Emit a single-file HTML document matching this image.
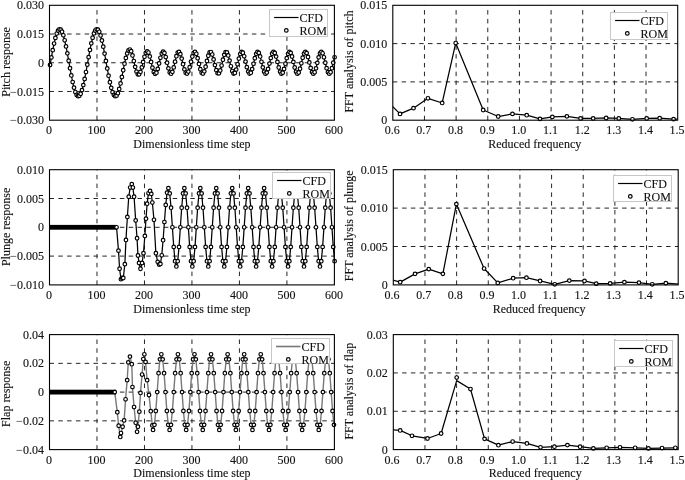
<!DOCTYPE html>
<html><head><meta charset="utf-8"><style>
html,body{margin:0;padding:0;background:#fff;width:685px;height:480px;overflow:hidden}
svg{display:block;will-change:transform}
text{font-family:"Liberation Serif",serif;stroke:#111;stroke-width:0.12px}
</style></head><body>
<svg width="685" height="480" viewBox="0 0 685 480" font-family='"Liberation Serif", serif'>
<rect width="685" height="480" fill="#fff"/>
<clipPath id="ca"><rect x="49.5" y="5.3" width="284.9" height="114.9"/></clipPath>
<path d="M96.98 120.2V5.3M144.47 120.2V5.3M191.95 120.2V5.3M239.43 120.2V5.3M286.92 120.2V5.3M49.5 34.02H334.4M49.5 62.75H334.4M49.5 91.47H334.4" stroke="#262626" stroke-width="1" stroke-dasharray="4.5 4.3" fill="none"/>
<path d="M49.5 68.11 L50.07 64.9 L51.4 57.39 L52.73 50.16 L54.06 43.56 L55.39 37.92 L56.72 33.53 L58.05 30.61 L59.38 29.3 L60.71 29.68 L62.04 31.72 L63.37 35.32 L64.69 40.3 L66.02 46.4 L67.35 53.33 L68.68 60.73 L70.01 68.24 L71.34 75.47 L72.67 82.05 L74 87.67 L75.33 92.04 L76.66 94.93 L77.99 96.21 L79.32 95.8 L80.65 93.73 L81.98 90.11 L83.31 85.1 L84.64 78.98 L85.97 72.04 L87.3 64.63 L88.63 57.13 L89.96 49.91 L91.29 43.34 L92.61 37.74 L93.94 33.4 L95.27 30.53 L96.6 29.29 L97.93 29.72 L99.26 31.82 L100.59 35.47 L101.92 40.5 L103.25 46.64 L104.58 53.59 L105.91 61 L107.24 68.5 L108.57 75.71 L109.9 82.27 L111.23 87.85 L112.56 92.17 L113.89 95 L115.22 96.22 L116.55 95.65 L117.88 93.17 L119.21 88.98 L120.54 83.44 L121.86 77.01 L123.19 70.23 L124.52 63.68 L125.85 57.9 L127.18 53.39 L128.51 50.52 L129.84 49.54 L131.17 51.26 L132.5 55.43 L133.83 61.05 L135.16 66.87 L136.49 71.62 L137.82 74.29 L139.15 74.36 L140.48 71.86 L141.81 67.39 L143.14 61.96 L144.47 56.78 L145.8 53 L147.13 51.42 L148.46 52.57 L149.78 56.44 L151.11 61.96 L152.44 67.66 L153.77 72.01 L155.1 73.85 L156.43 72.69 L157.76 68.88 L159.09 63.42 L160.42 57.81 L161.75 53.54 L163.08 51.76 L164.41 53.01 L165.74 57.04 L167.07 62.7 L168.4 68.36 L169.73 72.41 L171.06 73.7 L172.39 71.85 L173.72 67.41 L175.05 61.64 L176.38 56.19 L177.71 52.62 L179.03 51.93 L180.36 54.15 L181.69 58.61 L183.02 64.16 L184.35 69.34 L185.68 72.79 L187.01 73.61 L188.34 71.59 L189.67 67.25 L191 61.74 L192.33 56.49 L193.66 52.89 L194.99 51.86 L196.32 53.8 L197.65 58.21 L198.98 63.89 L200.31 69.25 L201.64 72.81 L202.97 73.57 L204.3 71.33 L205.63 66.71 L206.95 60.99 L208.28 55.76 L209.61 52.47 L210.94 52.03 L212.27 54.57 L213.6 59.38 L214.93 65.12 L216.26 70.21 L217.59 73.22 L218.92 73.33 L220.25 70.51 L221.58 65.53 L222.91 59.77 L224.24 54.85 L225.57 52.12 L226.9 52.34 L228.23 55.45 L229.56 60.58 L230.89 66.32 L232.22 71.07 L233.55 73.51 L234.87 72.96 L236.2 69.58 L237.53 64.3 L238.86 58.6 L240.19 54.04 L241.52 51.91 L242.85 52.75 L244.18 56.29 L245.51 61.58 L246.84 67.17 L248.17 71.58 L249.5 73.61 L250.83 72.71 L252.16 69.12 L253.49 63.82 L254.82 58.23 L256.15 53.86 L257.48 51.88 L258.81 52.83 L260.14 56.46 L261.47 61.78 L262.8 67.36 L264.12 71.7 L265.45 73.63 L266.78 72.62 L268.11 68.96 L269.44 63.62 L270.77 58.05 L272.1 53.74 L273.43 51.87 L274.76 52.91 L276.09 56.58 L277.42 61.89 L278.75 67.43 L280.08 71.72 L281.41 73.63 L282.74 72.63 L284.07 69.01 L285.4 63.72 L286.73 58.17 L288.06 53.84 L289.39 51.88 L290.72 52.85 L292.04 56.51 L293.37 61.88 L294.7 67.48 L296.03 71.79 L297.36 73.64 L298.69 72.52 L300.02 68.73 L301.35 63.32 L302.68 57.74 L304.01 53.54 L305.34 51.84 L306.67 53.11 L308 57 L309.33 62.44 L310.66 67.97 L311.99 72.08 L313.32 73.66 L314.65 72.29 L315.98 68.33 L317.31 62.85 L318.64 57.35 L319.97 53.31 L321.29 51.83 L322.62 53.3 L323.95 57.29 L325.28 62.75 L326.61 68.21 L327.94 72.2 L329.27 73.67 L330.6 72.2 L331.93 68.21 L333.26 62.75 L334.59 57.29" stroke="#000" stroke-width="1.25" fill="none" stroke-linejoin="round" clip-path="url(#ca)"/>
<g fill="#fff" stroke="#000" stroke-width="1.2"><circle cx="50.07" cy="64.9" r="1.8"/><circle cx="51.4" cy="57.39" r="1.8"/><circle cx="52.73" cy="50.16" r="1.8"/><circle cx="54.06" cy="43.56" r="1.8"/><circle cx="55.39" cy="37.92" r="1.8"/><circle cx="56.72" cy="33.53" r="1.8"/><circle cx="58.05" cy="30.61" r="1.8"/><circle cx="59.38" cy="29.3" r="1.8"/><circle cx="60.71" cy="29.68" r="1.8"/><circle cx="62.04" cy="31.72" r="1.8"/><circle cx="63.37" cy="35.32" r="1.8"/><circle cx="64.69" cy="40.3" r="1.8"/><circle cx="66.02" cy="46.4" r="1.8"/><circle cx="67.35" cy="53.33" r="1.8"/><circle cx="68.68" cy="60.73" r="1.8"/><circle cx="70.01" cy="68.24" r="1.8"/><circle cx="71.34" cy="75.47" r="1.8"/><circle cx="72.67" cy="82.05" r="1.8"/><circle cx="74" cy="87.67" r="1.8"/><circle cx="75.33" cy="92.04" r="1.8"/><circle cx="76.66" cy="94.93" r="1.8"/><circle cx="77.99" cy="96.21" r="1.8"/><circle cx="79.32" cy="95.8" r="1.8"/><circle cx="80.65" cy="93.73" r="1.8"/><circle cx="81.98" cy="90.11" r="1.8"/><circle cx="83.31" cy="85.1" r="1.8"/><circle cx="84.64" cy="78.98" r="1.8"/><circle cx="85.97" cy="72.04" r="1.8"/><circle cx="87.3" cy="64.63" r="1.8"/><circle cx="88.63" cy="57.13" r="1.8"/><circle cx="89.96" cy="49.91" r="1.8"/><circle cx="91.29" cy="43.34" r="1.8"/><circle cx="92.61" cy="37.74" r="1.8"/><circle cx="93.94" cy="33.4" r="1.8"/><circle cx="95.27" cy="30.53" r="1.8"/><circle cx="96.6" cy="29.29" r="1.8"/><circle cx="97.93" cy="29.72" r="1.8"/><circle cx="99.26" cy="31.82" r="1.8"/><circle cx="100.59" cy="35.47" r="1.8"/><circle cx="101.92" cy="40.5" r="1.8"/><circle cx="103.25" cy="46.64" r="1.8"/><circle cx="104.58" cy="53.59" r="1.8"/><circle cx="105.91" cy="61" r="1.8"/><circle cx="107.24" cy="68.5" r="1.8"/><circle cx="108.57" cy="75.71" r="1.8"/><circle cx="109.9" cy="82.27" r="1.8"/><circle cx="111.23" cy="87.85" r="1.8"/><circle cx="112.56" cy="92.17" r="1.8"/><circle cx="113.89" cy="95" r="1.8"/><circle cx="115.22" cy="96.22" r="1.8"/><circle cx="116.55" cy="95.65" r="1.8"/><circle cx="117.88" cy="93.17" r="1.8"/><circle cx="119.21" cy="88.98" r="1.8"/><circle cx="120.54" cy="83.44" r="1.8"/><circle cx="121.86" cy="77.01" r="1.8"/><circle cx="123.19" cy="70.23" r="1.8"/><circle cx="124.52" cy="63.68" r="1.8"/><circle cx="125.85" cy="57.9" r="1.8"/><circle cx="127.18" cy="53.39" r="1.8"/><circle cx="128.51" cy="50.52" r="1.8"/><circle cx="129.84" cy="49.54" r="1.8"/><circle cx="131.17" cy="51.26" r="1.8"/><circle cx="132.5" cy="55.43" r="1.8"/><circle cx="133.83" cy="61.05" r="1.8"/><circle cx="135.16" cy="66.87" r="1.8"/><circle cx="136.49" cy="71.62" r="1.8"/><circle cx="137.82" cy="74.29" r="1.8"/><circle cx="139.15" cy="74.36" r="1.8"/><circle cx="140.48" cy="71.86" r="1.8"/><circle cx="141.81" cy="67.39" r="1.8"/><circle cx="143.14" cy="61.96" r="1.8"/><circle cx="144.47" cy="56.78" r="1.8"/><circle cx="145.8" cy="53" r="1.8"/><circle cx="147.13" cy="51.42" r="1.8"/><circle cx="148.46" cy="52.57" r="1.8"/><circle cx="149.78" cy="56.44" r="1.8"/><circle cx="151.11" cy="61.96" r="1.8"/><circle cx="152.44" cy="67.66" r="1.8"/><circle cx="153.77" cy="72.01" r="1.8"/><circle cx="155.1" cy="73.85" r="1.8"/><circle cx="156.43" cy="72.69" r="1.8"/><circle cx="157.76" cy="68.88" r="1.8"/><circle cx="159.09" cy="63.42" r="1.8"/><circle cx="160.42" cy="57.81" r="1.8"/><circle cx="161.75" cy="53.54" r="1.8"/><circle cx="163.08" cy="51.76" r="1.8"/><circle cx="164.41" cy="53.01" r="1.8"/><circle cx="165.74" cy="57.04" r="1.8"/><circle cx="167.07" cy="62.7" r="1.8"/><circle cx="168.4" cy="68.36" r="1.8"/><circle cx="169.73" cy="72.41" r="1.8"/><circle cx="171.06" cy="73.7" r="1.8"/><circle cx="172.39" cy="71.85" r="1.8"/><circle cx="173.72" cy="67.41" r="1.8"/><circle cx="175.05" cy="61.64" r="1.8"/><circle cx="176.38" cy="56.19" r="1.8"/><circle cx="177.71" cy="52.62" r="1.8"/><circle cx="179.03" cy="51.93" r="1.8"/><circle cx="180.36" cy="54.15" r="1.8"/><circle cx="181.69" cy="58.61" r="1.8"/><circle cx="183.02" cy="64.16" r="1.8"/><circle cx="184.35" cy="69.34" r="1.8"/><circle cx="185.68" cy="72.79" r="1.8"/><circle cx="187.01" cy="73.61" r="1.8"/><circle cx="188.34" cy="71.59" r="1.8"/><circle cx="189.67" cy="67.25" r="1.8"/><circle cx="191" cy="61.74" r="1.8"/><circle cx="192.33" cy="56.49" r="1.8"/><circle cx="193.66" cy="52.89" r="1.8"/><circle cx="194.99" cy="51.86" r="1.8"/><circle cx="196.32" cy="53.8" r="1.8"/><circle cx="197.65" cy="58.21" r="1.8"/><circle cx="198.98" cy="63.89" r="1.8"/><circle cx="200.31" cy="69.25" r="1.8"/><circle cx="201.64" cy="72.81" r="1.8"/><circle cx="202.97" cy="73.57" r="1.8"/><circle cx="204.3" cy="71.33" r="1.8"/><circle cx="205.63" cy="66.71" r="1.8"/><circle cx="206.95" cy="60.99" r="1.8"/><circle cx="208.28" cy="55.76" r="1.8"/><circle cx="209.61" cy="52.47" r="1.8"/><circle cx="210.94" cy="52.03" r="1.8"/><circle cx="212.27" cy="54.57" r="1.8"/><circle cx="213.6" cy="59.38" r="1.8"/><circle cx="214.93" cy="65.12" r="1.8"/><circle cx="216.26" cy="70.21" r="1.8"/><circle cx="217.59" cy="73.22" r="1.8"/><circle cx="218.92" cy="73.33" r="1.8"/><circle cx="220.25" cy="70.51" r="1.8"/><circle cx="221.58" cy="65.53" r="1.8"/><circle cx="222.91" cy="59.77" r="1.8"/><circle cx="224.24" cy="54.85" r="1.8"/><circle cx="225.57" cy="52.12" r="1.8"/><circle cx="226.9" cy="52.34" r="1.8"/><circle cx="228.23" cy="55.45" r="1.8"/><circle cx="229.56" cy="60.58" r="1.8"/><circle cx="230.89" cy="66.32" r="1.8"/><circle cx="232.22" cy="71.07" r="1.8"/><circle cx="233.55" cy="73.51" r="1.8"/><circle cx="234.87" cy="72.96" r="1.8"/><circle cx="236.2" cy="69.58" r="1.8"/><circle cx="237.53" cy="64.3" r="1.8"/><circle cx="238.86" cy="58.6" r="1.8"/><circle cx="240.19" cy="54.04" r="1.8"/><circle cx="241.52" cy="51.91" r="1.8"/><circle cx="242.85" cy="52.75" r="1.8"/><circle cx="244.18" cy="56.29" r="1.8"/><circle cx="245.51" cy="61.58" r="1.8"/><circle cx="246.84" cy="67.17" r="1.8"/><circle cx="248.17" cy="71.58" r="1.8"/><circle cx="249.5" cy="73.61" r="1.8"/><circle cx="250.83" cy="72.71" r="1.8"/><circle cx="252.16" cy="69.12" r="1.8"/><circle cx="253.49" cy="63.82" r="1.8"/><circle cx="254.82" cy="58.23" r="1.8"/><circle cx="256.15" cy="53.86" r="1.8"/><circle cx="257.48" cy="51.88" r="1.8"/><circle cx="258.81" cy="52.83" r="1.8"/><circle cx="260.14" cy="56.46" r="1.8"/><circle cx="261.47" cy="61.78" r="1.8"/><circle cx="262.8" cy="67.36" r="1.8"/><circle cx="264.12" cy="71.7" r="1.8"/><circle cx="265.45" cy="73.63" r="1.8"/><circle cx="266.78" cy="72.62" r="1.8"/><circle cx="268.11" cy="68.96" r="1.8"/><circle cx="269.44" cy="63.62" r="1.8"/><circle cx="270.77" cy="58.05" r="1.8"/><circle cx="272.1" cy="53.74" r="1.8"/><circle cx="273.43" cy="51.87" r="1.8"/><circle cx="274.76" cy="52.91" r="1.8"/><circle cx="276.09" cy="56.58" r="1.8"/><circle cx="277.42" cy="61.89" r="1.8"/><circle cx="278.75" cy="67.43" r="1.8"/><circle cx="280.08" cy="71.72" r="1.8"/><circle cx="281.41" cy="73.63" r="1.8"/><circle cx="282.74" cy="72.63" r="1.8"/><circle cx="284.07" cy="69.01" r="1.8"/><circle cx="285.4" cy="63.72" r="1.8"/><circle cx="286.73" cy="58.17" r="1.8"/><circle cx="288.06" cy="53.84" r="1.8"/><circle cx="289.39" cy="51.88" r="1.8"/><circle cx="290.72" cy="52.85" r="1.8"/><circle cx="292.04" cy="56.51" r="1.8"/><circle cx="293.37" cy="61.88" r="1.8"/><circle cx="294.7" cy="67.48" r="1.8"/><circle cx="296.03" cy="71.79" r="1.8"/><circle cx="297.36" cy="73.64" r="1.8"/><circle cx="298.69" cy="72.52" r="1.8"/><circle cx="300.02" cy="68.73" r="1.8"/><circle cx="301.35" cy="63.32" r="1.8"/><circle cx="302.68" cy="57.74" r="1.8"/><circle cx="304.01" cy="53.54" r="1.8"/><circle cx="305.34" cy="51.84" r="1.8"/><circle cx="306.67" cy="53.11" r="1.8"/><circle cx="308" cy="57" r="1.8"/><circle cx="309.33" cy="62.44" r="1.8"/><circle cx="310.66" cy="67.97" r="1.8"/><circle cx="311.99" cy="72.08" r="1.8"/><circle cx="313.32" cy="73.66" r="1.8"/><circle cx="314.65" cy="72.29" r="1.8"/><circle cx="315.98" cy="68.33" r="1.8"/><circle cx="317.31" cy="62.85" r="1.8"/><circle cx="318.64" cy="57.35" r="1.8"/><circle cx="319.97" cy="53.31" r="1.8"/><circle cx="321.29" cy="51.83" r="1.8"/><circle cx="322.62" cy="53.3" r="1.8"/><circle cx="323.95" cy="57.29" r="1.8"/><circle cx="325.28" cy="62.75" r="1.8"/><circle cx="326.61" cy="68.21" r="1.8"/><circle cx="327.94" cy="72.2" r="1.8"/><circle cx="329.27" cy="73.67" r="1.8"/><circle cx="330.6" cy="72.2" r="1.8"/><circle cx="331.93" cy="68.21" r="1.8"/><circle cx="333.26" cy="62.75" r="1.8"/><circle cx="334.59" cy="57.29" r="1.8"/></g>
<rect x="49.5" y="5.3" width="284.9" height="114.9" fill="none" stroke="#000" stroke-width="1.1"/>
<rect x="269.5" y="9.5" width="58" height="27" fill="#fff" stroke="#c8c8c8" stroke-width="1"/>
<path d="M274.1 17.5H298.5" stroke="#000" stroke-width="1.2"/>
<circle cx="286.3" cy="30.4" r="1.8" fill="#fff" stroke="#000" stroke-width="1.2"/>
<text x="299.5" y="21.6" font-size="12" fill="#111">CFD</text>
<text x="299.5" y="34.5" font-size="12" fill="#111">ROM</text>
<text x="49" y="134.4" font-size="12" text-anchor="middle" fill="#111">0</text>
<text x="96.48" y="134.4" font-size="12" text-anchor="middle" fill="#111">100</text>
<text x="143.97" y="134.4" font-size="12" text-anchor="middle" fill="#111">200</text>
<text x="191.45" y="134.4" font-size="12" text-anchor="middle" fill="#111">300</text>
<text x="238.93" y="134.4" font-size="12" text-anchor="middle" fill="#111">400</text>
<text x="286.42" y="134.4" font-size="12" text-anchor="middle" fill="#111">500</text>
<text x="333.9" y="134.4" font-size="12" text-anchor="middle" fill="#111">600</text>
<text x="43.9" y="9.35" font-size="12" text-anchor="end" fill="#111">0.030</text>
<text x="43.9" y="38.07" font-size="12" text-anchor="end" fill="#111">0.015</text>
<text x="43.9" y="66.8" font-size="12" text-anchor="end" fill="#111">0</text>
<text x="43.9" y="95.52" font-size="12" text-anchor="end" fill="#111">−0.015</text>
<text x="43.9" y="124.25" font-size="12" text-anchor="end" fill="#111">−0.030</text>
<text transform="translate(191.95 147.8)" font-size="12" text-anchor="middle" fill="#111">Dimensionless time step</text>
<text transform="translate(9.6 61.9) rotate(-90)" font-size="12" text-anchor="middle" fill="#111">Pitch response</text>
<clipPath id="cb"><rect x="49.5" y="169.7" width="284.9" height="115.2"/></clipPath>
<path d="M96.98 284.9V169.7M144.47 284.9V169.7M191.95 284.9V169.7M239.43 284.9V169.7M286.92 284.9V169.7M49.5 198.5H334.4M49.5 227.3H334.4M49.5 256.1H334.4" stroke="#262626" stroke-width="1" stroke-dasharray="4.5 4.3" fill="none"/>
<path d="M49.5 227.3 L50.07 227.3 L51.4 227.3 L52.73 227.3 L54.06 227.3 L55.39 227.3 L56.72 227.3 L58.05 227.3 L59.38 227.3 L60.71 227.3 L62.04 227.3 L63.37 227.3 L64.69 227.3 L66.02 227.3 L67.35 227.3 L68.68 227.3 L70.01 227.3 L71.34 227.3 L72.67 227.3 L74 227.3 L75.33 227.3 L76.66 227.3 L77.99 227.3 L79.32 227.3 L80.65 227.3 L81.98 227.3 L83.31 227.3 L84.64 227.3 L85.97 227.3 L87.3 227.3 L88.63 227.3 L89.96 227.3 L91.29 227.3 L92.61 227.3 L93.94 227.3 L95.27 227.3 L96.6 227.3 L97.93 227.3 L99.26 227.3 L100.59 227.3 L101.92 227.3 L103.25 227.3 L104.58 227.3 L105.91 227.3 L107.24 227.3 L108.57 227.3 L109.9 227.3 L111.23 227.3 L112.56 227.3 L113.89 227.3 L115.22 227.3 L116.55 227.3 L118.49 250.63 L119.59 268.77 L120.96 279.14 L122.15 277.99 L123.29 277.99 L124.86 264.16 L125.95 239.97 L127.37 216.93 L128.75 196.77 L130.17 187.56 L131.79 184.1 L132.88 187.56 L134.07 196.77 L135.68 220.39 L137.06 238.24 L137.96 255.52 L139.05 263.01 L140.48 268.77 L142.09 263.01 L143.47 253.22 L144.85 235.94 L145.99 218.66 L147.13 203.68 L148.46 193.32 L150.07 191.01 L151.3 193.89 L152.35 202.53 L153.96 219.81 L155.86 253.22 L157.67 261.86 L159.09 264.59 L160.42 264 L161.75 255.28 L163.08 240.18 L164.41 222.04 L165.74 204.91 L167.07 192.68 L168.4 188.13 L169.73 193.38 L171.06 207.72 L172.39 227.3 L173.72 246.88 L175.05 261.22 L176.38 266.47 L177.71 261.22 L179.03 246.88 L180.36 227.3 L181.69 207.72 L183.02 193.38 L184.35 188.13 L185.68 193.38 L187.01 207.72 L188.34 227.3 L189.67 246.88 L191 261.22 L192.33 266.47 L193.66 261.22 L194.99 246.88 L196.32 227.3 L197.65 207.72 L198.98 193.38 L200.31 188.13 L201.64 193.38 L202.97 207.72 L204.3 227.3 L205.63 246.88 L206.95 261.22 L208.28 266.47 L209.61 261.22 L210.94 246.88 L212.27 227.3 L213.6 207.72 L214.93 193.38 L216.26 188.13 L217.59 193.38 L218.92 207.72 L220.25 227.3 L221.58 246.88 L222.91 261.22 L224.24 266.47 L225.57 261.22 L226.9 246.88 L228.23 227.3 L229.56 207.72 L230.89 193.38 L232.22 188.13 L233.55 193.38 L234.87 207.72 L236.2 227.3 L237.53 246.88 L238.86 261.22 L240.19 266.47 L241.52 261.22 L242.85 246.88 L244.18 227.3 L245.51 207.72 L246.84 193.38 L248.17 188.13 L249.5 193.38 L250.83 207.72 L252.16 227.3 L253.49 246.88 L254.82 261.22 L256.15 266.47 L257.48 261.22 L258.81 246.88 L260.14 227.3 L261.47 207.72 L262.8 193.38 L264.12 188.13 L265.45 193.38 L266.78 207.72 L268.11 227.3 L269.44 246.88 L270.77 261.22 L272.1 266.47 L273.43 261.22 L274.76 246.88 L276.09 227.3 L277.42 207.72 L278.75 193.38 L280.08 188.13 L281.41 193.38 L282.74 207.72 L284.07 227.3 L285.4 246.88 L286.73 261.22 L288.06 266.47 L289.39 261.22 L290.72 246.88 L292.04 227.3 L293.37 207.72 L294.7 193.38 L296.03 188.13 L297.36 193.38 L298.69 207.72 L300.02 227.3 L301.35 246.88 L302.68 261.22 L304.01 266.47 L305.34 261.22 L306.67 246.88 L308 227.3 L309.33 207.72 L310.66 193.38 L311.99 188.13 L313.32 193.38 L314.65 207.72 L315.98 227.3 L317.31 246.88 L318.64 261.22 L319.97 266.47 L321.29 261.22 L322.62 246.88 L323.95 227.3 L325.28 207.72 L326.61 193.38 L327.94 188.13 L329.27 193.38 L330.6 207.72 L331.93 227.3 L333.26 246.88 L334.59 261.22" stroke="#000" stroke-width="1.25" fill="none" stroke-linejoin="round" clip-path="url(#cb)"/>
<rect x="49.5" y="224.9" width="67.05" height="4.8" fill="#000"/>
<g fill="#fff" stroke="#000" stroke-width="1.2"><circle cx="116.55" cy="227.3" r="1.8"/><circle cx="118.49" cy="250.63" r="1.8"/><circle cx="119.59" cy="268.77" r="1.8"/><circle cx="120.96" cy="279.14" r="1.8"/><circle cx="122.15" cy="277.99" r="1.8"/><circle cx="123.29" cy="277.99" r="1.8"/><circle cx="124.86" cy="264.16" r="1.8"/><circle cx="125.95" cy="239.97" r="1.8"/><circle cx="127.37" cy="216.93" r="1.8"/><circle cx="128.75" cy="196.77" r="1.8"/><circle cx="130.17" cy="187.56" r="1.8"/><circle cx="131.79" cy="184.1" r="1.8"/><circle cx="132.88" cy="187.56" r="1.8"/><circle cx="134.07" cy="196.77" r="1.8"/><circle cx="135.68" cy="220.39" r="1.8"/><circle cx="137.06" cy="238.24" r="1.8"/><circle cx="137.96" cy="255.52" r="1.8"/><circle cx="139.05" cy="263.01" r="1.8"/><circle cx="140.48" cy="268.77" r="1.8"/><circle cx="142.09" cy="263.01" r="1.8"/><circle cx="143.47" cy="253.22" r="1.8"/><circle cx="144.85" cy="235.94" r="1.8"/><circle cx="145.99" cy="218.66" r="1.8"/><circle cx="147.13" cy="203.68" r="1.8"/><circle cx="148.46" cy="193.32" r="1.8"/><circle cx="150.07" cy="191.01" r="1.8"/><circle cx="151.3" cy="193.89" r="1.8"/><circle cx="152.35" cy="202.53" r="1.8"/><circle cx="153.96" cy="219.81" r="1.8"/><circle cx="155.86" cy="253.22" r="1.8"/><circle cx="157.67" cy="261.86" r="1.8"/><circle cx="159.09" cy="264.59" r="1.8"/><circle cx="160.42" cy="264" r="1.8"/><circle cx="161.75" cy="255.28" r="1.8"/><circle cx="163.08" cy="240.18" r="1.8"/><circle cx="164.41" cy="222.04" r="1.8"/><circle cx="165.74" cy="204.91" r="1.8"/><circle cx="167.07" cy="192.68" r="1.8"/><circle cx="168.4" cy="188.13" r="1.8"/><circle cx="169.73" cy="193.38" r="1.8"/><circle cx="171.06" cy="207.72" r="1.8"/><circle cx="172.39" cy="227.3" r="1.8"/><circle cx="173.72" cy="246.88" r="1.8"/><circle cx="175.05" cy="261.22" r="1.8"/><circle cx="176.38" cy="266.47" r="1.8"/><circle cx="177.71" cy="261.22" r="1.8"/><circle cx="179.03" cy="246.88" r="1.8"/><circle cx="180.36" cy="227.3" r="1.8"/><circle cx="181.69" cy="207.72" r="1.8"/><circle cx="183.02" cy="193.38" r="1.8"/><circle cx="184.35" cy="188.13" r="1.8"/><circle cx="185.68" cy="193.38" r="1.8"/><circle cx="187.01" cy="207.72" r="1.8"/><circle cx="188.34" cy="227.3" r="1.8"/><circle cx="189.67" cy="246.88" r="1.8"/><circle cx="191" cy="261.22" r="1.8"/><circle cx="192.33" cy="266.47" r="1.8"/><circle cx="193.66" cy="261.22" r="1.8"/><circle cx="194.99" cy="246.88" r="1.8"/><circle cx="196.32" cy="227.3" r="1.8"/><circle cx="197.65" cy="207.72" r="1.8"/><circle cx="198.98" cy="193.38" r="1.8"/><circle cx="200.31" cy="188.13" r="1.8"/><circle cx="201.64" cy="193.38" r="1.8"/><circle cx="202.97" cy="207.72" r="1.8"/><circle cx="204.3" cy="227.3" r="1.8"/><circle cx="205.63" cy="246.88" r="1.8"/><circle cx="206.95" cy="261.22" r="1.8"/><circle cx="208.28" cy="266.47" r="1.8"/><circle cx="209.61" cy="261.22" r="1.8"/><circle cx="210.94" cy="246.88" r="1.8"/><circle cx="212.27" cy="227.3" r="1.8"/><circle cx="213.6" cy="207.72" r="1.8"/><circle cx="214.93" cy="193.38" r="1.8"/><circle cx="216.26" cy="188.13" r="1.8"/><circle cx="217.59" cy="193.38" r="1.8"/><circle cx="218.92" cy="207.72" r="1.8"/><circle cx="220.25" cy="227.3" r="1.8"/><circle cx="221.58" cy="246.88" r="1.8"/><circle cx="222.91" cy="261.22" r="1.8"/><circle cx="224.24" cy="266.47" r="1.8"/><circle cx="225.57" cy="261.22" r="1.8"/><circle cx="226.9" cy="246.88" r="1.8"/><circle cx="228.23" cy="227.3" r="1.8"/><circle cx="229.56" cy="207.72" r="1.8"/><circle cx="230.89" cy="193.38" r="1.8"/><circle cx="232.22" cy="188.13" r="1.8"/><circle cx="233.55" cy="193.38" r="1.8"/><circle cx="234.87" cy="207.72" r="1.8"/><circle cx="236.2" cy="227.3" r="1.8"/><circle cx="237.53" cy="246.88" r="1.8"/><circle cx="238.86" cy="261.22" r="1.8"/><circle cx="240.19" cy="266.47" r="1.8"/><circle cx="241.52" cy="261.22" r="1.8"/><circle cx="242.85" cy="246.88" r="1.8"/><circle cx="244.18" cy="227.3" r="1.8"/><circle cx="245.51" cy="207.72" r="1.8"/><circle cx="246.84" cy="193.38" r="1.8"/><circle cx="248.17" cy="188.13" r="1.8"/><circle cx="249.5" cy="193.38" r="1.8"/><circle cx="250.83" cy="207.72" r="1.8"/><circle cx="252.16" cy="227.3" r="1.8"/><circle cx="253.49" cy="246.88" r="1.8"/><circle cx="254.82" cy="261.22" r="1.8"/><circle cx="256.15" cy="266.47" r="1.8"/><circle cx="257.48" cy="261.22" r="1.8"/><circle cx="258.81" cy="246.88" r="1.8"/><circle cx="260.14" cy="227.3" r="1.8"/><circle cx="261.47" cy="207.72" r="1.8"/><circle cx="262.8" cy="193.38" r="1.8"/><circle cx="264.12" cy="188.13" r="1.8"/><circle cx="265.45" cy="193.38" r="1.8"/><circle cx="266.78" cy="207.72" r="1.8"/><circle cx="268.11" cy="227.3" r="1.8"/><circle cx="269.44" cy="246.88" r="1.8"/><circle cx="270.77" cy="261.22" r="1.8"/><circle cx="272.1" cy="266.47" r="1.8"/><circle cx="273.43" cy="261.22" r="1.8"/><circle cx="274.76" cy="246.88" r="1.8"/><circle cx="276.09" cy="227.3" r="1.8"/><circle cx="277.42" cy="207.72" r="1.8"/><circle cx="278.75" cy="193.38" r="1.8"/><circle cx="280.08" cy="188.13" r="1.8"/><circle cx="281.41" cy="193.38" r="1.8"/><circle cx="282.74" cy="207.72" r="1.8"/><circle cx="284.07" cy="227.3" r="1.8"/><circle cx="285.4" cy="246.88" r="1.8"/><circle cx="286.73" cy="261.22" r="1.8"/><circle cx="288.06" cy="266.47" r="1.8"/><circle cx="289.39" cy="261.22" r="1.8"/><circle cx="290.72" cy="246.88" r="1.8"/><circle cx="292.04" cy="227.3" r="1.8"/><circle cx="293.37" cy="207.72" r="1.8"/><circle cx="294.7" cy="193.38" r="1.8"/><circle cx="296.03" cy="188.13" r="1.8"/><circle cx="297.36" cy="193.38" r="1.8"/><circle cx="298.69" cy="207.72" r="1.8"/><circle cx="300.02" cy="227.3" r="1.8"/><circle cx="301.35" cy="246.88" r="1.8"/><circle cx="302.68" cy="261.22" r="1.8"/><circle cx="304.01" cy="266.47" r="1.8"/><circle cx="305.34" cy="261.22" r="1.8"/><circle cx="306.67" cy="246.88" r="1.8"/><circle cx="308" cy="227.3" r="1.8"/><circle cx="309.33" cy="207.72" r="1.8"/><circle cx="310.66" cy="193.38" r="1.8"/><circle cx="311.99" cy="188.13" r="1.8"/><circle cx="313.32" cy="193.38" r="1.8"/><circle cx="314.65" cy="207.72" r="1.8"/><circle cx="315.98" cy="227.3" r="1.8"/><circle cx="317.31" cy="246.88" r="1.8"/><circle cx="318.64" cy="261.22" r="1.8"/><circle cx="319.97" cy="266.47" r="1.8"/><circle cx="321.29" cy="261.22" r="1.8"/><circle cx="322.62" cy="246.88" r="1.8"/><circle cx="323.95" cy="227.3" r="1.8"/><circle cx="325.28" cy="207.72" r="1.8"/><circle cx="326.61" cy="193.38" r="1.8"/><circle cx="327.94" cy="188.13" r="1.8"/><circle cx="329.27" cy="193.38" r="1.8"/><circle cx="330.6" cy="207.72" r="1.8"/><circle cx="331.93" cy="227.3" r="1.8"/><circle cx="333.26" cy="246.88" r="1.8"/><circle cx="334.59" cy="261.22" r="1.8"/></g>
<rect x="49.5" y="169.7" width="284.9" height="115.2" fill="none" stroke="#000" stroke-width="1.1"/>
<rect x="272.5" y="172.5" width="58" height="26" fill="#fff" stroke="#c8c8c8" stroke-width="1"/>
<path d="M277.1 180.5H301.5" stroke="#000" stroke-width="1.2"/>
<circle cx="289.3" cy="193.4" r="1.8" fill="#fff" stroke="#000" stroke-width="1.2"/>
<text x="302.5" y="184.6" font-size="12" fill="#111">CFD</text>
<text x="302.5" y="197.5" font-size="12" fill="#111">ROM</text>
<text x="49" y="299.1" font-size="12" text-anchor="middle" fill="#111">0</text>
<text x="96.48" y="299.1" font-size="12" text-anchor="middle" fill="#111">100</text>
<text x="143.97" y="299.1" font-size="12" text-anchor="middle" fill="#111">200</text>
<text x="191.45" y="299.1" font-size="12" text-anchor="middle" fill="#111">300</text>
<text x="238.93" y="299.1" font-size="12" text-anchor="middle" fill="#111">400</text>
<text x="286.42" y="299.1" font-size="12" text-anchor="middle" fill="#111">500</text>
<text x="333.9" y="299.1" font-size="12" text-anchor="middle" fill="#111">600</text>
<text x="43.9" y="173.75" font-size="12" text-anchor="end" fill="#111">0.010</text>
<text x="43.9" y="202.55" font-size="12" text-anchor="end" fill="#111">0.005</text>
<text x="43.9" y="231.35" font-size="12" text-anchor="end" fill="#111">0</text>
<text x="43.9" y="260.15" font-size="12" text-anchor="end" fill="#111">−0.005</text>
<text x="43.9" y="288.95" font-size="12" text-anchor="end" fill="#111">−0.010</text>
<text transform="translate(191.95 312.5)" font-size="12" text-anchor="middle" fill="#111">Dimensionless time step</text>
<text transform="translate(9.6 226.9) rotate(-90)" font-size="12" text-anchor="middle" fill="#111">Plunge response</text>
<clipPath id="cc"><rect x="49.5" y="334.6" width="284.9" height="115"/></clipPath>
<path d="M96.98 449.6V334.6M144.47 449.6V334.6M191.95 449.6V334.6M239.43 449.6V334.6M286.92 449.6V334.6M49.5 363.35H334.4M49.5 392.1H334.4M49.5 420.85H334.4" stroke="#262626" stroke-width="1" stroke-dasharray="4.5 4.3" fill="none"/>
<path d="M49.5 392.1 L49.59 392.1 L50.92 392.1 L52.25 392.1 L53.58 392.1 L54.91 392.1 L56.24 392.1 L57.57 392.1 L58.9 392.1 L60.23 392.1 L61.56 392.1 L62.89 392.1 L64.22 392.1 L65.55 392.1 L66.88 392.1 L68.21 392.1 L69.54 392.1 L70.87 392.1 L72.2 392.1 L73.53 392.1 L74.86 392.1 L76.19 392.1 L77.52 392.1 L78.84 392.1 L80.17 392.1 L81.5 392.1 L82.83 392.1 L84.16 392.1 L85.49 392.1 L86.82 392.1 L88.15 392.1 L89.48 392.1 L90.81 392.1 L92.14 392.1 L93.47 392.1 L94.8 392.1 L96.13 392.1 L97.46 392.1 L98.79 392.1 L100.12 392.1 L101.45 392.1 L102.78 392.1 L104.11 392.1 L105.44 392.1 L106.76 392.1 L108.09 392.1 L109.42 392.1 L110.75 392.1 L112.08 392.1 L113.41 392.1 L114.74 392.1 L117.31 412.23 L118.68 425.74 L120.3 436.95 L120.96 433.07 L122.58 426.74 L124.14 420.42 L125.57 399.29 L127.18 380.17 L128.27 362.34 L129.94 356.59 L131.79 364.21 L132.45 387.07 L134.07 407.05 L135.68 422.72 L137.06 431.78 L137.96 426.74 L139.34 411.65 L140.48 392.96 L142.09 374.56 L143.28 359.04 L144.37 354.29 L145.56 361.91 L147.13 380.17 L148.98 394.98 L150.78 411.22 L152.35 425.45 L153.04 429.91 L154.42 424.84 L155.8 411 L157.18 392.1 L158.56 373.2 L159.94 359.36 L161.32 354.29 L162.7 359.36 L164.09 373.2 L165.47 392.1 L166.85 411 L168.23 424.84 L169.61 429.91 L170.99 424.84 L172.37 411 L173.75 392.1 L175.13 373.2 L176.51 359.36 L177.89 354.29 L179.28 359.36 L180.66 373.2 L182.04 392.1 L183.42 411 L184.8 424.84 L186.18 429.91 L187.56 424.84 L188.94 411 L190.32 392.1 L191.7 373.2 L193.09 359.36 L194.47 354.29 L195.85 359.36 L197.23 373.2 L198.61 392.1 L199.99 411 L201.37 424.84 L202.75 429.91 L204.13 424.84 L205.51 411 L206.9 392.1 L208.28 373.2 L209.66 359.36 L211.04 354.29 L212.42 359.36 L213.8 373.2 L215.18 392.1 L216.56 411 L217.94 424.84 L219.32 429.91 L220.71 424.84 L222.09 411 L223.47 392.1 L224.85 373.2 L226.23 359.36 L227.61 354.29 L228.99 359.36 L230.37 373.2 L231.75 392.1 L233.13 411 L234.51 424.84 L235.9 429.91 L237.28 424.84 L238.66 411 L240.04 392.1 L241.42 373.2 L242.8 359.36 L244.18 354.29 L245.56 359.36 L246.94 373.2 L248.32 392.1 L249.71 411 L251.09 424.84 L252.47 429.91 L253.85 424.84 L255.23 411 L256.61 392.1 L257.99 373.2 L259.37 359.36 L260.75 354.29 L262.13 359.36 L263.52 373.2 L264.9 392.1 L266.28 411 L267.66 424.84 L269.04 429.91 L270.42 424.84 L271.8 411 L273.18 392.1 L274.56 373.2 L275.94 359.36 L277.33 354.29 L278.71 359.36 L280.09 373.2 L281.47 392.1 L282.85 411 L284.23 424.84 L285.61 429.91 L286.99 424.84 L288.37 411 L289.75 392.1 L291.13 373.2 L292.52 359.36 L293.9 354.29 L295.28 359.36 L296.66 373.2 L298.04 392.1 L299.42 411 L300.8 424.84 L302.18 429.91 L303.56 424.84 L304.94 411 L306.33 392.1 L307.71 373.2 L309.09 359.36 L310.47 354.29 L311.85 359.36 L313.23 373.2 L314.61 392.1 L315.99 411 L317.37 424.84 L318.75 429.91 L320.14 424.84 L321.52 411 L322.9 392.1 L324.28 373.2 L325.66 359.36 L327.04 354.29 L328.42 359.36 L329.8 373.2 L331.18 392.1 L332.56 411 L333.94 424.84" stroke="#777" stroke-width="1.4" fill="none" stroke-linejoin="round" clip-path="url(#cc)"/>
<rect x="49.5" y="389.7" width="66.57" height="4.8" fill="#000"/>
<g fill="#fff" stroke="#000" stroke-width="1.2"><circle cx="114.74" cy="392.1" r="1.8"/><circle cx="117.31" cy="412.23" r="1.8"/><circle cx="118.68" cy="425.74" r="1.8"/><circle cx="120.3" cy="436.95" r="1.8"/><circle cx="120.96" cy="433.07" r="1.8"/><circle cx="122.58" cy="426.74" r="1.8"/><circle cx="124.14" cy="420.42" r="1.8"/><circle cx="125.57" cy="399.29" r="1.8"/><circle cx="127.18" cy="380.17" r="1.8"/><circle cx="128.27" cy="362.34" r="1.8"/><circle cx="129.94" cy="356.59" r="1.8"/><circle cx="131.79" cy="364.21" r="1.8"/><circle cx="132.45" cy="387.07" r="1.8"/><circle cx="134.07" cy="407.05" r="1.8"/><circle cx="135.68" cy="422.72" r="1.8"/><circle cx="137.06" cy="431.78" r="1.8"/><circle cx="137.96" cy="426.74" r="1.8"/><circle cx="139.34" cy="411.65" r="1.8"/><circle cx="140.48" cy="392.96" r="1.8"/><circle cx="142.09" cy="374.56" r="1.8"/><circle cx="143.28" cy="359.04" r="1.8"/><circle cx="144.37" cy="354.29" r="1.8"/><circle cx="145.56" cy="361.91" r="1.8"/><circle cx="147.13" cy="380.17" r="1.8"/><circle cx="148.98" cy="394.98" r="1.8"/><circle cx="150.78" cy="411.22" r="1.8"/><circle cx="152.35" cy="425.45" r="1.8"/><circle cx="153.04" cy="429.91" r="1.8"/><circle cx="154.42" cy="424.84" r="1.8"/><circle cx="155.8" cy="411" r="1.8"/><circle cx="157.18" cy="392.1" r="1.8"/><circle cx="158.56" cy="373.2" r="1.8"/><circle cx="159.94" cy="359.36" r="1.8"/><circle cx="161.32" cy="354.29" r="1.8"/><circle cx="162.7" cy="359.36" r="1.8"/><circle cx="164.09" cy="373.2" r="1.8"/><circle cx="165.47" cy="392.1" r="1.8"/><circle cx="166.85" cy="411" r="1.8"/><circle cx="168.23" cy="424.84" r="1.8"/><circle cx="169.61" cy="429.91" r="1.8"/><circle cx="170.99" cy="424.84" r="1.8"/><circle cx="172.37" cy="411" r="1.8"/><circle cx="173.75" cy="392.1" r="1.8"/><circle cx="175.13" cy="373.2" r="1.8"/><circle cx="176.51" cy="359.36" r="1.8"/><circle cx="177.89" cy="354.29" r="1.8"/><circle cx="179.28" cy="359.36" r="1.8"/><circle cx="180.66" cy="373.2" r="1.8"/><circle cx="182.04" cy="392.1" r="1.8"/><circle cx="183.42" cy="411" r="1.8"/><circle cx="184.8" cy="424.84" r="1.8"/><circle cx="186.18" cy="429.91" r="1.8"/><circle cx="187.56" cy="424.84" r="1.8"/><circle cx="188.94" cy="411" r="1.8"/><circle cx="190.32" cy="392.1" r="1.8"/><circle cx="191.7" cy="373.2" r="1.8"/><circle cx="193.09" cy="359.36" r="1.8"/><circle cx="194.47" cy="354.29" r="1.8"/><circle cx="195.85" cy="359.36" r="1.8"/><circle cx="197.23" cy="373.2" r="1.8"/><circle cx="198.61" cy="392.1" r="1.8"/><circle cx="199.99" cy="411" r="1.8"/><circle cx="201.37" cy="424.84" r="1.8"/><circle cx="202.75" cy="429.91" r="1.8"/><circle cx="204.13" cy="424.84" r="1.8"/><circle cx="205.51" cy="411" r="1.8"/><circle cx="206.9" cy="392.1" r="1.8"/><circle cx="208.28" cy="373.2" r="1.8"/><circle cx="209.66" cy="359.36" r="1.8"/><circle cx="211.04" cy="354.29" r="1.8"/><circle cx="212.42" cy="359.36" r="1.8"/><circle cx="213.8" cy="373.2" r="1.8"/><circle cx="215.18" cy="392.1" r="1.8"/><circle cx="216.56" cy="411" r="1.8"/><circle cx="217.94" cy="424.84" r="1.8"/><circle cx="219.32" cy="429.91" r="1.8"/><circle cx="220.71" cy="424.84" r="1.8"/><circle cx="222.09" cy="411" r="1.8"/><circle cx="223.47" cy="392.1" r="1.8"/><circle cx="224.85" cy="373.2" r="1.8"/><circle cx="226.23" cy="359.36" r="1.8"/><circle cx="227.61" cy="354.29" r="1.8"/><circle cx="228.99" cy="359.36" r="1.8"/><circle cx="230.37" cy="373.2" r="1.8"/><circle cx="231.75" cy="392.1" r="1.8"/><circle cx="233.13" cy="411" r="1.8"/><circle cx="234.51" cy="424.84" r="1.8"/><circle cx="235.9" cy="429.91" r="1.8"/><circle cx="237.28" cy="424.84" r="1.8"/><circle cx="238.66" cy="411" r="1.8"/><circle cx="240.04" cy="392.1" r="1.8"/><circle cx="241.42" cy="373.2" r="1.8"/><circle cx="242.8" cy="359.36" r="1.8"/><circle cx="244.18" cy="354.29" r="1.8"/><circle cx="245.56" cy="359.36" r="1.8"/><circle cx="246.94" cy="373.2" r="1.8"/><circle cx="248.32" cy="392.1" r="1.8"/><circle cx="249.71" cy="411" r="1.8"/><circle cx="251.09" cy="424.84" r="1.8"/><circle cx="252.47" cy="429.91" r="1.8"/><circle cx="253.85" cy="424.84" r="1.8"/><circle cx="255.23" cy="411" r="1.8"/><circle cx="256.61" cy="392.1" r="1.8"/><circle cx="257.99" cy="373.2" r="1.8"/><circle cx="259.37" cy="359.36" r="1.8"/><circle cx="260.75" cy="354.29" r="1.8"/><circle cx="262.13" cy="359.36" r="1.8"/><circle cx="263.52" cy="373.2" r="1.8"/><circle cx="264.9" cy="392.1" r="1.8"/><circle cx="266.28" cy="411" r="1.8"/><circle cx="267.66" cy="424.84" r="1.8"/><circle cx="269.04" cy="429.91" r="1.8"/><circle cx="270.42" cy="424.84" r="1.8"/><circle cx="271.8" cy="411" r="1.8"/><circle cx="273.18" cy="392.1" r="1.8"/><circle cx="274.56" cy="373.2" r="1.8"/><circle cx="275.94" cy="359.36" r="1.8"/><circle cx="277.33" cy="354.29" r="1.8"/><circle cx="278.71" cy="359.36" r="1.8"/><circle cx="280.09" cy="373.2" r="1.8"/><circle cx="281.47" cy="392.1" r="1.8"/><circle cx="282.85" cy="411" r="1.8"/><circle cx="284.23" cy="424.84" r="1.8"/><circle cx="285.61" cy="429.91" r="1.8"/><circle cx="286.99" cy="424.84" r="1.8"/><circle cx="288.37" cy="411" r="1.8"/><circle cx="289.75" cy="392.1" r="1.8"/><circle cx="291.13" cy="373.2" r="1.8"/><circle cx="292.52" cy="359.36" r="1.8"/><circle cx="293.9" cy="354.29" r="1.8"/><circle cx="295.28" cy="359.36" r="1.8"/><circle cx="296.66" cy="373.2" r="1.8"/><circle cx="298.04" cy="392.1" r="1.8"/><circle cx="299.42" cy="411" r="1.8"/><circle cx="300.8" cy="424.84" r="1.8"/><circle cx="302.18" cy="429.91" r="1.8"/><circle cx="303.56" cy="424.84" r="1.8"/><circle cx="304.94" cy="411" r="1.8"/><circle cx="306.33" cy="392.1" r="1.8"/><circle cx="307.71" cy="373.2" r="1.8"/><circle cx="309.09" cy="359.36" r="1.8"/><circle cx="310.47" cy="354.29" r="1.8"/><circle cx="311.85" cy="359.36" r="1.8"/><circle cx="313.23" cy="373.2" r="1.8"/><circle cx="314.61" cy="392.1" r="1.8"/><circle cx="315.99" cy="411" r="1.8"/><circle cx="317.37" cy="424.84" r="1.8"/><circle cx="318.75" cy="429.91" r="1.8"/><circle cx="320.14" cy="424.84" r="1.8"/><circle cx="321.52" cy="411" r="1.8"/><circle cx="322.9" cy="392.1" r="1.8"/><circle cx="324.28" cy="373.2" r="1.8"/><circle cx="325.66" cy="359.36" r="1.8"/><circle cx="327.04" cy="354.29" r="1.8"/><circle cx="328.42" cy="359.36" r="1.8"/><circle cx="329.8" cy="373.2" r="1.8"/><circle cx="331.18" cy="392.1" r="1.8"/><circle cx="332.56" cy="411" r="1.8"/><circle cx="333.94" cy="424.84" r="1.8"/></g>
<rect x="49.5" y="334.6" width="284.9" height="115" fill="none" stroke="#000" stroke-width="1.1"/>
<rect x="271.5" y="338.5" width="58" height="25" fill="#fff" stroke="#c8c8c8" stroke-width="1"/>
<path d="M276.1 346.5H300.5" stroke="#777" stroke-width="1.6"/>
<circle cx="288.3" cy="359.4" r="1.8" fill="#fff" stroke="#000" stroke-width="1.2"/>
<text x="301.5" y="350.6" font-size="12" fill="#111">CFD</text>
<text x="301.5" y="363.5" font-size="12" fill="#111">ROM</text>
<text x="49" y="463.8" font-size="12" text-anchor="middle" fill="#111">0</text>
<text x="96.48" y="463.8" font-size="12" text-anchor="middle" fill="#111">100</text>
<text x="143.97" y="463.8" font-size="12" text-anchor="middle" fill="#111">200</text>
<text x="191.45" y="463.8" font-size="12" text-anchor="middle" fill="#111">300</text>
<text x="238.93" y="463.8" font-size="12" text-anchor="middle" fill="#111">400</text>
<text x="286.42" y="463.8" font-size="12" text-anchor="middle" fill="#111">500</text>
<text x="333.9" y="463.8" font-size="12" text-anchor="middle" fill="#111">600</text>
<text x="43.9" y="338.65" font-size="12" text-anchor="end" fill="#111">0.04</text>
<text x="43.9" y="367.4" font-size="12" text-anchor="end" fill="#111">0.02</text>
<text x="43.9" y="396.15" font-size="12" text-anchor="end" fill="#111">0</text>
<text x="43.9" y="424.9" font-size="12" text-anchor="end" fill="#111">−0.02</text>
<text x="43.9" y="453.65" font-size="12" text-anchor="end" fill="#111">−0.04</text>
<text transform="translate(191.95 477.2)" font-size="12" text-anchor="middle" fill="#111">Dimensionless time step</text>
<text transform="translate(9.6 393.8) rotate(-90)" font-size="12" text-anchor="middle" fill="#111">Flap response</text>
<clipPath id="cd"><rect x="392.8" y="5.3" width="284.9" height="114.9"/></clipPath>
<path d="M424.46 120.2V5.3M456.11 120.2V5.3M487.77 120.2V5.3M519.42 120.2V5.3M551.08 120.2V5.3M582.73 120.2V5.3M614.39 120.2V5.3M646.04 120.2V5.3M392.8 81.9H677.7M392.8 43.6H677.7" stroke="#262626" stroke-width="1" stroke-dasharray="4.5 4.3" fill="none"/>
<path d="M385.84 99.52 L400.02 113.92 L413.5 108.17 L427.94 98.29 L442.18 102.97 L455.7 43.06 L483.18 110.01 L498.21 116.52 L512.46 113.92 L526.7 115.22 L540 118.9 L552.34 116.91 L566.91 116.37 L580.52 118.44 L593.18 118.44 L606.16 117.98 L618.82 118.44 L632.43 119.28 L646.68 118.44 L659.66 118.21 L673.58 119.13 L687.2 119.43" stroke="#000" stroke-width="1.25" fill="none" stroke-linejoin="round" clip-path="url(#cd)"/>
<g fill="#fff" stroke="#000" stroke-width="1.2"><circle cx="400.02" cy="113.92" r="1.8"/><circle cx="413.5" cy="108.17" r="1.8"/><circle cx="427.94" cy="98.29" r="1.8"/><circle cx="442.18" cy="102.97" r="1.8"/><circle cx="455.7" cy="43.06" r="1.8"/><circle cx="483.18" cy="110.01" r="1.8"/><circle cx="498.21" cy="116.52" r="1.8"/><circle cx="512.46" cy="113.92" r="1.8"/><circle cx="526.7" cy="115.22" r="1.8"/><circle cx="540" cy="118.9" r="1.8"/><circle cx="552.34" cy="116.91" r="1.8"/><circle cx="566.91" cy="116.37" r="1.8"/><circle cx="580.52" cy="118.44" r="1.8"/><circle cx="593.18" cy="118.44" r="1.8"/><circle cx="606.16" cy="117.98" r="1.8"/><circle cx="618.82" cy="118.44" r="1.8"/><circle cx="632.43" cy="119.28" r="1.8"/><circle cx="646.68" cy="118.44" r="1.8"/><circle cx="659.66" cy="118.21" r="1.8"/><circle cx="673.58" cy="119.13" r="1.8"/></g>
<rect x="392.8" y="5.3" width="284.9" height="114.9" fill="none" stroke="#000" stroke-width="1.1"/>
<rect x="610.5" y="12.5" width="57" height="27" fill="#fff" stroke="#c8c8c8" stroke-width="1"/>
<path d="M615.1 20.5H639.5" stroke="#000" stroke-width="1.2"/>
<circle cx="627.3" cy="33.4" r="1.8" fill="#fff" stroke="#000" stroke-width="1.2"/>
<text x="640.5" y="24.6" font-size="12" fill="#111">CFD</text>
<text x="640.5" y="37.5" font-size="12" fill="#111">ROM</text>
<text x="392.2" y="134.4" font-size="12" text-anchor="middle" fill="#111">0.6</text>
<text x="423.86" y="134.4" font-size="12" text-anchor="middle" fill="#111">0.7</text>
<text x="455.51" y="134.4" font-size="12" text-anchor="middle" fill="#111">0.8</text>
<text x="487.17" y="134.4" font-size="12" text-anchor="middle" fill="#111">0.9</text>
<text x="518.82" y="134.4" font-size="12" text-anchor="middle" fill="#111">1.0</text>
<text x="550.48" y="134.4" font-size="12" text-anchor="middle" fill="#111">1.1</text>
<text x="582.13" y="134.4" font-size="12" text-anchor="middle" fill="#111">1.2</text>
<text x="613.79" y="134.4" font-size="12" text-anchor="middle" fill="#111">1.3</text>
<text x="645.44" y="134.4" font-size="12" text-anchor="middle" fill="#111">1.4</text>
<text x="677.1" y="134.4" font-size="12" text-anchor="middle" fill="#111">1.5</text>
<text x="387.2" y="9.35" font-size="12" text-anchor="end" fill="#111">0.015</text>
<text x="387.2" y="47.65" font-size="12" text-anchor="end" fill="#111">0.010</text>
<text x="387.2" y="85.95" font-size="12" text-anchor="end" fill="#111">0.005</text>
<text x="387.2" y="124.25" font-size="12" text-anchor="end" fill="#111">0</text>
<text transform="translate(534.75 147.8)" font-size="12" text-anchor="middle" fill="#111">Reduced frequency</text>
<text transform="translate(352.9 61.5) rotate(-90)" font-size="12" text-anchor="middle" fill="#111">FFT analysis of pitch</text>
<clipPath id="ce"><rect x="393.3" y="169.7" width="284.9" height="115.2"/></clipPath>
<path d="M424.96 284.9V169.7M456.61 284.9V169.7M488.27 284.9V169.7M519.92 284.9V169.7M551.58 284.9V169.7M583.23 284.9V169.7M614.89 284.9V169.7M646.54 284.9V169.7M393.3 246.5H678.2M393.3 208.1H678.2" stroke="#262626" stroke-width="1" stroke-dasharray="4.5 4.3" fill="none"/>
<path d="M386.34 278.37 L400.2 282.14 L415.05 273.84 L428.75 269.08 L442.87 273.84 L456.36 204.11 L484.09 268.54 L497.76 282.9 L513.15 278.22 L526.44 277.68 L540.09 280.98 L554.74 284.29 L569.3 280.6 L584.5 280.98 L596.21 283.67 L610.14 283.44 L624.39 282.14 L638.95 282.6 L652.24 284.29 L665.85 283.21 L679.78 284.13" stroke="#000" stroke-width="1.25" fill="none" stroke-linejoin="round" clip-path="url(#ce)"/>
<g fill="#fff" stroke="#000" stroke-width="1.2"><circle cx="400.2" cy="282.14" r="1.8"/><circle cx="415.05" cy="273.84" r="1.8"/><circle cx="428.75" cy="269.08" r="1.8"/><circle cx="442.87" cy="273.84" r="1.8"/><circle cx="456.36" cy="204.11" r="1.8"/><circle cx="484.09" cy="268.54" r="1.8"/><circle cx="497.76" cy="282.9" r="1.8"/><circle cx="513.15" cy="278.22" r="1.8"/><circle cx="526.44" cy="277.68" r="1.8"/><circle cx="540.09" cy="280.98" r="1.8"/><circle cx="554.74" cy="284.29" r="1.8"/><circle cx="569.3" cy="280.6" r="1.8"/><circle cx="584.5" cy="280.98" r="1.8"/><circle cx="596.21" cy="283.67" r="1.8"/><circle cx="610.14" cy="283.44" r="1.8"/><circle cx="624.39" cy="282.14" r="1.8"/><circle cx="638.95" cy="282.6" r="1.8"/><circle cx="652.24" cy="284.29" r="1.8"/><circle cx="665.85" cy="283.21" r="1.8"/></g>
<rect x="393.3" y="169.7" width="284.9" height="115.2" fill="none" stroke="#000" stroke-width="1.1"/>
<rect x="613.5" y="175.5" width="58" height="26" fill="#fff" stroke="#c8c8c8" stroke-width="1"/>
<path d="M618.1 183.5H642.5" stroke="#000" stroke-width="1.2"/>
<circle cx="630.3" cy="196.4" r="1.8" fill="#fff" stroke="#000" stroke-width="1.2"/>
<text x="643.5" y="187.6" font-size="12" fill="#111">CFD</text>
<text x="643.5" y="200.5" font-size="12" fill="#111">ROM</text>
<text x="392" y="299.1" font-size="12" text-anchor="middle" fill="#111">0.6</text>
<text x="423.66" y="299.1" font-size="12" text-anchor="middle" fill="#111">0.7</text>
<text x="455.31" y="299.1" font-size="12" text-anchor="middle" fill="#111">0.8</text>
<text x="486.97" y="299.1" font-size="12" text-anchor="middle" fill="#111">0.9</text>
<text x="518.62" y="299.1" font-size="12" text-anchor="middle" fill="#111">1.0</text>
<text x="550.28" y="299.1" font-size="12" text-anchor="middle" fill="#111">1.1</text>
<text x="581.93" y="299.1" font-size="12" text-anchor="middle" fill="#111">1.2</text>
<text x="613.59" y="299.1" font-size="12" text-anchor="middle" fill="#111">1.3</text>
<text x="645.24" y="299.1" font-size="12" text-anchor="middle" fill="#111">1.4</text>
<text x="676.9" y="299.1" font-size="12" text-anchor="middle" fill="#111">1.5</text>
<text x="387.7" y="173.75" font-size="12" text-anchor="end" fill="#111">0.015</text>
<text x="387.7" y="212.15" font-size="12" text-anchor="end" fill="#111">0.010</text>
<text x="387.7" y="250.55" font-size="12" text-anchor="end" fill="#111">0.005</text>
<text x="387.7" y="288.95" font-size="12" text-anchor="end" fill="#111">0</text>
<text transform="translate(539.1 312.5)" font-size="12" text-anchor="middle" fill="#111">Reduced frequency</text>
<text transform="translate(353.4 225.8) rotate(-90)" font-size="12" text-anchor="middle" fill="#111">FFT analysis of plunge</text>
<clipPath id="cf"><rect x="393.3" y="334.6" width="284.9" height="115"/></clipPath>
<path d="M424.96 449.6V334.6M456.61 449.6V334.6M488.27 449.6V334.6M519.92 449.6V334.6M551.58 449.6V334.6M583.23 449.6V334.6M614.89 449.6V334.6M646.54 449.6V334.6M393.3 411.27H678.2M393.3 372.93H678.2" stroke="#262626" stroke-width="1" stroke-dasharray="4.5 4.3" fill="none"/>
<path d="M386.34 429.28 L400.2 430.43 L411.98 435.8 L427.49 438.48 L441.1 433.5 L456.67 380.6 L470.48 389.03 L484.56 438.87 L498.4 445.19 L512.64 441.55 L526.89 443.47 L540.5 447.3 L554.43 446.69 L567.41 445.12 L580.07 446.69 L593.36 448.45 L606.66 447.8 L619.95 447.3 L635.15 447.8 L648.44 448.45 L662.06 448.07 L675.35 447.8 L687.7 447.68" stroke="#000" stroke-width="1.25" fill="none" stroke-linejoin="round" clip-path="url(#cf)"/>
<g fill="#fff" stroke="#000" stroke-width="1.2"><circle cx="400.2" cy="430.43" r="1.8"/><circle cx="411.98" cy="435.8" r="1.8"/><circle cx="427.49" cy="438.48" r="1.8"/><circle cx="441.1" cy="433.5" r="1.8"/><circle cx="456.67" cy="377.53" r="1.8"/><circle cx="470.48" cy="389.03" r="1.8"/><circle cx="484.56" cy="438.87" r="1.8"/><circle cx="498.4" cy="445.19" r="1.8"/><circle cx="512.64" cy="441.55" r="1.8"/><circle cx="526.89" cy="443.47" r="1.8"/><circle cx="540.5" cy="447.3" r="1.8"/><circle cx="554.43" cy="446.69" r="1.8"/><circle cx="567.41" cy="445.12" r="1.8"/><circle cx="580.07" cy="446.69" r="1.8"/><circle cx="593.36" cy="448.45" r="1.8"/><circle cx="606.66" cy="447.8" r="1.8"/><circle cx="619.95" cy="447.3" r="1.8"/><circle cx="635.15" cy="447.8" r="1.8"/><circle cx="648.44" cy="448.45" r="1.8"/><circle cx="662.06" cy="448.07" r="1.8"/><circle cx="675.35" cy="447.8" r="1.8"/></g>
<rect x="393.3" y="334.6" width="284.9" height="115" fill="none" stroke="#000" stroke-width="1.1"/>
<rect x="614.5" y="340.5" width="58" height="26" fill="#fff" stroke="#c8c8c8" stroke-width="1"/>
<path d="M619.1 348.5H643.5" stroke="#000" stroke-width="1.2"/>
<circle cx="631.3" cy="361.4" r="1.8" fill="#fff" stroke="#000" stroke-width="1.2"/>
<text x="644.5" y="352.6" font-size="12" fill="#111">CFD</text>
<text x="644.5" y="365.5" font-size="12" fill="#111">ROM</text>
<text x="392" y="463.8" font-size="12" text-anchor="middle" fill="#111">0.6</text>
<text x="423.66" y="463.8" font-size="12" text-anchor="middle" fill="#111">0.7</text>
<text x="455.31" y="463.8" font-size="12" text-anchor="middle" fill="#111">0.8</text>
<text x="486.97" y="463.8" font-size="12" text-anchor="middle" fill="#111">0.9</text>
<text x="518.62" y="463.8" font-size="12" text-anchor="middle" fill="#111">1.0</text>
<text x="550.28" y="463.8" font-size="12" text-anchor="middle" fill="#111">1.1</text>
<text x="581.93" y="463.8" font-size="12" text-anchor="middle" fill="#111">1.2</text>
<text x="613.59" y="463.8" font-size="12" text-anchor="middle" fill="#111">1.3</text>
<text x="645.24" y="463.8" font-size="12" text-anchor="middle" fill="#111">1.4</text>
<text x="676.9" y="463.8" font-size="12" text-anchor="middle" fill="#111">1.5</text>
<text x="387.7" y="338.65" font-size="12" text-anchor="end" fill="#111">0.03</text>
<text x="387.7" y="376.98" font-size="12" text-anchor="end" fill="#111">0.02</text>
<text x="387.7" y="415.32" font-size="12" text-anchor="end" fill="#111">0.01</text>
<text x="387.7" y="453.65" font-size="12" text-anchor="end" fill="#111">0</text>
<text transform="translate(535.15 477.2)" font-size="12" text-anchor="middle" fill="#111">Reduced frequency</text>
<text transform="translate(353.4 391.2) rotate(-90)" font-size="12" text-anchor="middle" fill="#111">FFT analysis of flap</text>
</svg>
</body></html>
